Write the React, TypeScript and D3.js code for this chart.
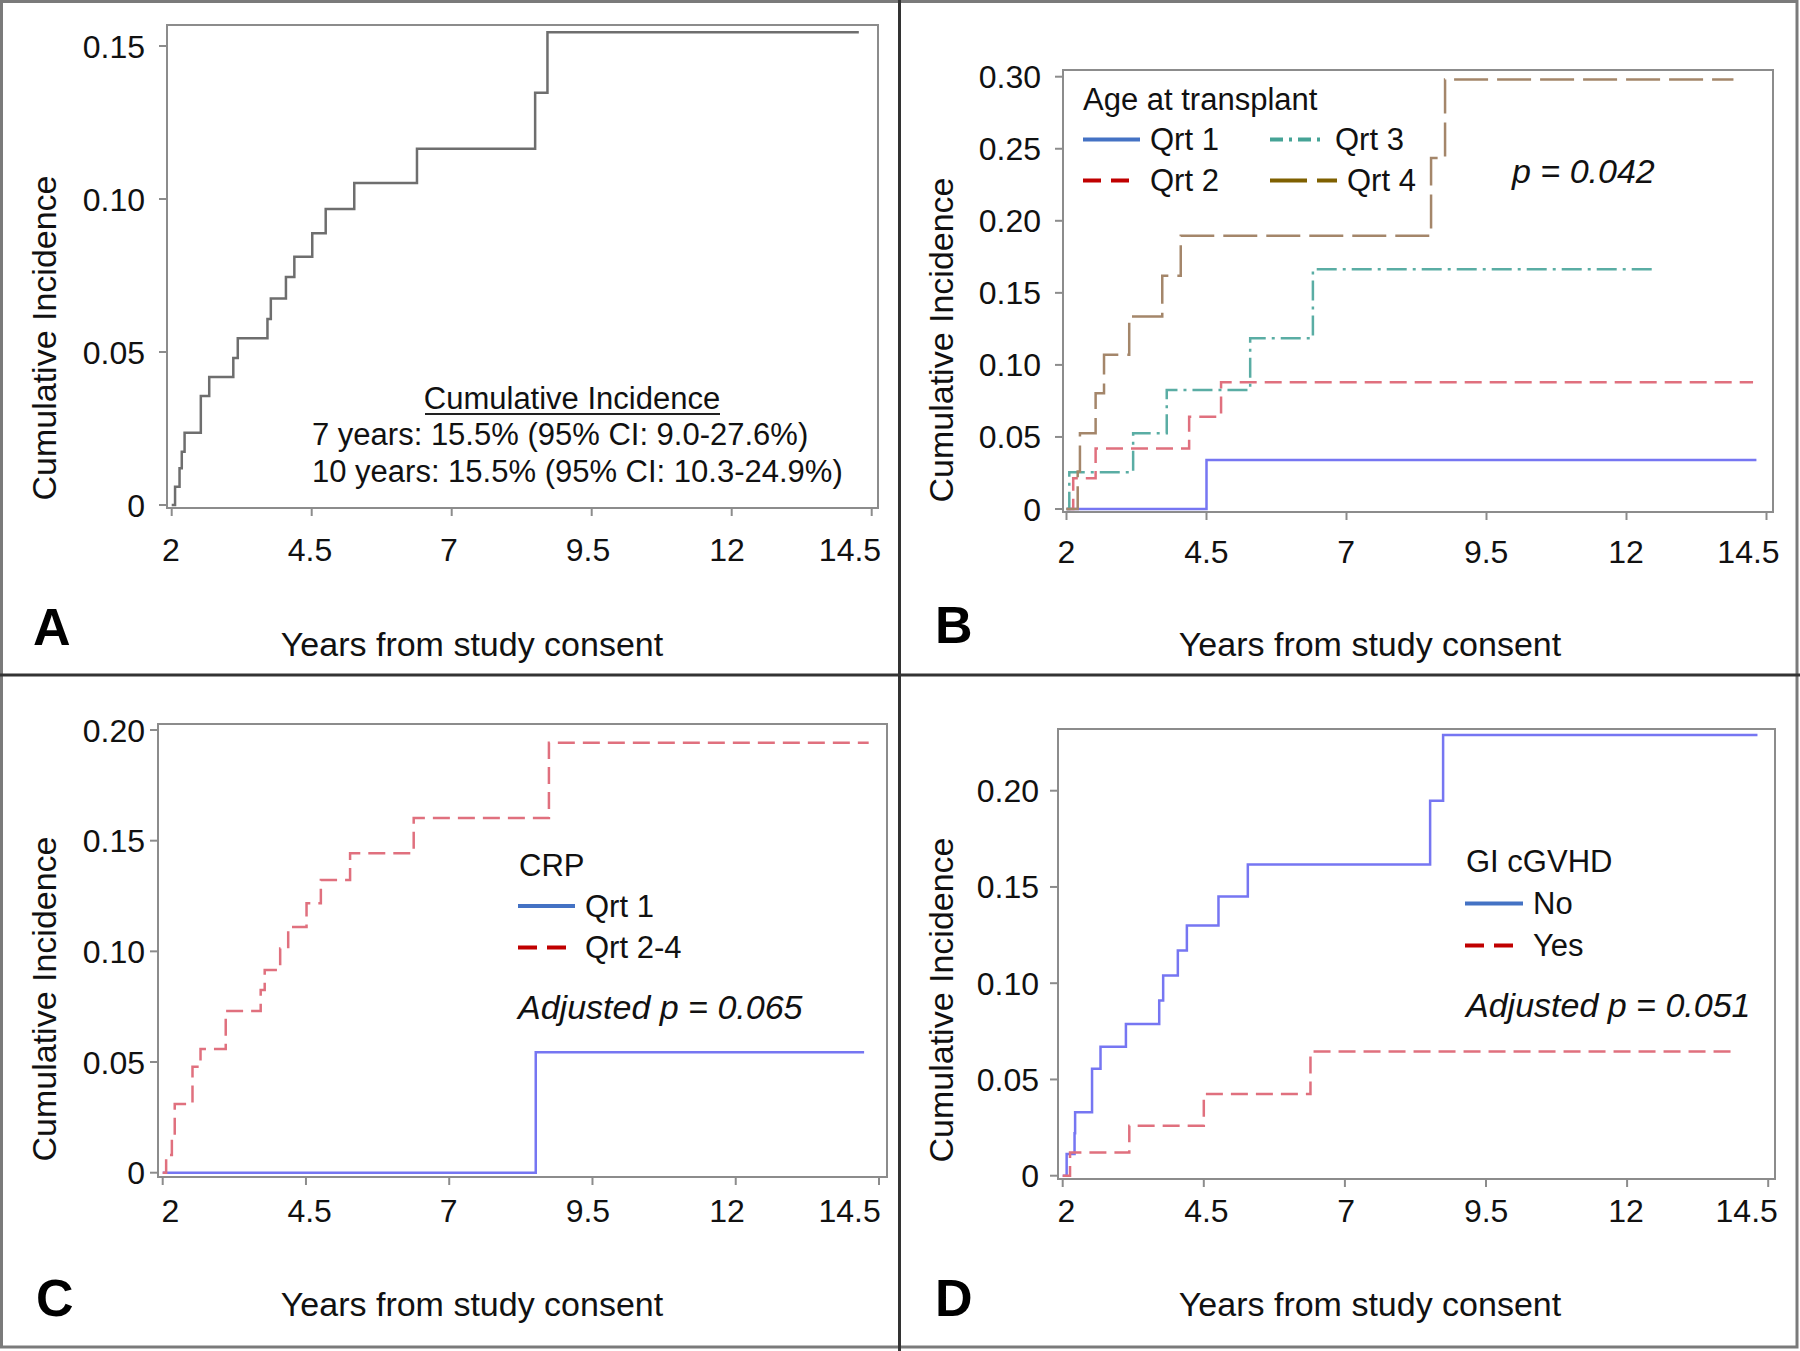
import React from 'react';
import * as d3 from 'd3';

// ---------- data ----------
const xTickValues = [2, 4.5, 7, 9.5, 12, 14.5];
const xTickLabels = ['2', '4.5', '7', '9.5', '12', '14.5'];

const yTicksA = [0, 0.05, 0.1, 0.15];
const yLabelsA = ['0', '0.05', '0.10', '0.15'];
const yTicksB = [0, 0.05, 0.1, 0.15, 0.2, 0.25, 0.3];
const yLabelsB = ['0', '0.05', '0.10', '0.15', '0.20', '0.25', '0.30'];
const yTicksC = [0, 0.05, 0.1, 0.15, 0.2];
const yLabelsC = ['0', '0.05', '0.10', '0.15', '0.20'];
const yTicksD = [0, 0.05, 0.1, 0.15, 0.2];
const yLabelsD = ['0', '0.05', '0.10', '0.15', '0.20'];

// Panel A: overall
const overallTimes = [2.0, 2.06, 2.14, 2.18, 2.23, 2.52, 2.67, 3.1, 3.18, 3.71, 3.77, 4.04, 4.19, 4.51, 4.75, 5.26, 6.38, 8.49, 8.71, 14.27];
const overallValues = [0, 0.006, 0.012, 0.0174, 0.0236, 0.0356, 0.0418, 0.048, 0.0545, 0.0608, 0.0675, 0.0745, 0.0811, 0.0888, 0.0967, 0.1052, 0.1164, 0.1347, 0.1545, 0.1545];

// Panel B: age at transplant quartiles
const ageQ1Times = [2.0, 4.5, 14.32];
const ageQ1Values = [0, 0.034, 0.034];
const ageQ2Times = [2.0, 2.12, 2.52, 4.19, 4.76, 14.26];
const ageQ2Values = [0, 0.0213, 0.042, 0.064, 0.088, 0.088];
const ageQ3Times = [2.0, 2.05, 3.19, 3.79, 5.28, 6.4, 12.48];
const ageQ3Values = [0, 0.0255, 0.0526, 0.0826, 0.1185, 0.1664, 0.1664];
const ageQ4Times = [2.0, 2.2, 2.24, 2.52, 2.67, 3.12, 3.71, 4.04, 8.51, 8.76, 13.91];
const ageQ4Values = [0, 0.026, 0.0526, 0.0803, 0.107, 0.1336, 0.1618, 0.1896, 0.2435, 0.298, 0.298];

// Panel C: CRP
const crpQ1Times = [2.0, 8.51, 14.24];
const crpQ1Values = [0, 0.0544, 0.0544];
const crpQ24Times = [2.0, 2.06, 2.16, 2.21, 2.52, 2.66, 3.1, 3.71, 3.78, 4.05, 4.19, 4.51, 4.76, 5.27, 6.38, 8.74, 14.32];
const crpQ24Values = [0, 0.008, 0.0163, 0.031, 0.0479, 0.0559, 0.073, 0.0825, 0.0916, 0.1013, 0.111, 0.1217, 0.1322, 0.1443, 0.1603, 0.1942, 0.1942];

// Panel D: GI cGVHD
const gvhdNoTimes = [2.0, 2.07, 2.21, 2.22, 2.52, 2.67, 3.12, 3.71, 3.78, 4.04, 4.2, 4.76, 5.28, 8.51, 8.74, 14.31];
const gvhdNoValues = [0, 0.0113, 0.022, 0.033, 0.0555, 0.067, 0.0788, 0.091, 0.104, 0.117, 0.13, 0.145, 0.1617, 0.1948, 0.2289, 0.2289];
const gvhdYesTimes = [2.0, 2.13, 3.18, 4.5, 6.39, 13.89];
const gvhdYesValues = [0, 0.0121, 0.026, 0.0425, 0.0645, 0.0645];

// ---------- styles ----------
const FONT = "'Liberation Sans', Arial, Helvetica, sans-serif";
const FRAME = '#8c8c8c';
const plotBlue = '#7676f2';
const plotRed = '#e0707e';
const plotTeal = '#5aada4';
const plotBrown = '#a4866a';
const legBlue = '#4472c4';
const legRed = '#c00000';
const legTeal = '#45a396';
const legBrown = '#7f6000';

type Series = { times: number[]; values: number[]; color: string; width: number; dash?: string };

type PanelCfg = {
  letter: string;
  frame: { l: number; r: number; t: number; b: number };
  x2: number; x145: number;
  lab2: number; lab12: number; labLast: number;
  y0: number; yTopPx: number; yTopVal: number;
  yTicks: number[]; yLabels: string[];
  yLabelRight: number;
  xLabelBase: number;
  yTitleX: number; yTitleY: number;
  xTitleX: number; xTitleBase: number;
  letterX: number; letterBase: number;
  series: Series[];
};

function Panel({ cfg, children }: { cfg: PanelCfg; children?: React.ReactNode }) {
  const xs = d3.scaleLinear().domain([2, 14.5]).range([cfg.x2, cfg.x145]);
  const xl = d3.scaleLinear().domain([2, 12]).range([cfg.lab2, cfg.lab12]);
  const ys = d3.scaleLinear().domain([0, cfg.yTopVal]).range([cfg.y0, cfg.yTopPx]);
  const line = d3
    .line<[number, number]>()
    .x((d) => xs(d[0]))
    .y((d) => ys(d[1]))
    .curve(d3.curveStepAfter);
  const f = cfg.frame;
  const last = xTickValues.length - 1;
  return (
    <g>
      <rect x={f.l} y={f.t} width={f.r - f.l} height={f.b - f.t} fill="none" stroke={FRAME} strokeWidth={2} />
      {cfg.yTicks.map((t, i) => (
        <g key={'y' + i}>
          <line x1={f.l - 8} x2={f.l} y1={ys(t)} y2={ys(t)} stroke={FRAME} strokeWidth={2} />
          <text x={cfg.yLabelRight} y={ys(t)} dy="0.36em" textAnchor="end" fontSize={32} fontFamily={FONT} fill="#111">
            {cfg.yLabels[i]}
          </text>
        </g>
      ))}
      {xTickValues.map((t, i) => (
        <g key={'x' + i}>
          <line x1={xs(t)} x2={xs(t)} y1={f.b} y2={f.b + 8} stroke={FRAME} strokeWidth={2} />
          <text
            x={i === last ? cfg.labLast : xl(t)}
            y={cfg.xLabelBase}
            textAnchor="middle"
            fontSize={32}
            fontFamily={FONT}
            fill="#111"
          >
            {xTickLabels[i]}
          </text>
        </g>
      ))}
      {cfg.series.map((s, i) => (
        <path
          key={'s' + i}
          d={line(s.times.map((t, k) => [t, s.values[k]] as [number, number])) || ''}
          fill="none"
          stroke={s.color}
          strokeWidth={s.width}
          strokeDasharray={s.dash}
        />
      ))}
      <text
        transform={`translate(${cfg.yTitleX},${cfg.yTitleY}) rotate(-90)`}
        textAnchor="middle"
        dy="0.36em"
        fontSize={34}
        fontFamily={FONT}
        fill="#111"
      >
        Cumulative Incidence
      </text>
      <text x={cfg.xTitleX} y={cfg.xTitleBase} textAnchor="middle" fontSize={34} fontFamily={FONT} fill="#111">
        Years from study consent
      </text>
      <text x={cfg.letterX} y={cfg.letterBase} fontSize={52} fontWeight="bold" fontFamily={FONT} fill="#000">
        {cfg.letter}
      </text>
      {children}
    </g>
  );
}

function LegendLine({ x1, x2, y, color, dash }: { x1: number; x2: number; y: number; color: string; dash?: string }) {
  return <line x1={x1} x2={x2} y1={y} y2={y} stroke={color} strokeWidth={4} strokeDasharray={dash} />;
}

export default function App() {
  const panelA: PanelCfg = {
    letter: 'A',
    frame: { l: 167, r: 878, t: 25, b: 508 },
    x2: 171.7, x145: 871.7,
    lab2: 171, lab12: 727, labLast: 850,
    y0: 505, yTopPx: 46, yTopVal: 0.15,
    yTicks: yTicksA, yLabels: yLabelsA, yLabelRight: 145,
    xLabelBase: 561,
    yTitleX: 44, yTitleY: 338,
    xTitleX: 472, xTitleBase: 656,
    letterX: 33, letterBase: 645,
    series: [{ times: overallTimes, values: overallValues, color: '#6e6e6e', width: 2.5 }],
  };
  const panelB: PanelCfg = {
    letter: 'B',
    frame: { l: 1063, r: 1773, t: 70, b: 512 },
    x2: 1066.5, x145: 1766.5,
    lab2: 1066.5, lab12: 1626, labLast: 1748.5,
    y0: 509, yTopPx: 76.7, yTopVal: 0.3,
    yTicks: yTicksB, yLabels: yLabelsB, yLabelRight: 1041,
    xLabelBase: 563,
    yTitleX: 941, yTitleY: 340,
    xTitleX: 1370, xTitleBase: 656,
    letterX: 935, letterBase: 643,
    series: [
      { times: ageQ1Times, values: ageQ1Values, color: plotBlue, width: 2.5 },
      { times: ageQ2Times, values: ageQ2Values, color: plotRed, width: 2.5, dash: '17 8' },
      { times: ageQ3Times, values: ageQ3Values, color: plotTeal, width: 2.5, dash: '20 6 3 6' },
      { times: ageQ4Times, values: ageQ4Values, color: plotBrown, width: 2.5, dash: '34 9' },
    ],
  };
  const panelC: PanelCfg = {
    letter: 'C',
    frame: { l: 158, r: 887, t: 724, b: 1177 },
    x2: 162.7, x145: 879,
    lab2: 170.5, lab12: 727, labLast: 849.6,
    y0: 1172.7, yTopPx: 730, yTopVal: 0.2,
    yTicks: yTicksC, yLabels: yLabelsC, yLabelRight: 145,
    xLabelBase: 1222,
    yTitleX: 44, yTitleY: 999,
    xTitleX: 472, xTitleBase: 1316,
    letterX: 36, letterBase: 1316,
    series: [
      { times: crpQ1Times, values: crpQ1Values, color: plotBlue, width: 2.5 },
      { times: crpQ24Times, values: crpQ24Values, color: plotRed, width: 2.5, dash: '17 8' },
    ],
  };
  const panelD: PanelCfg = {
    letter: 'D',
    frame: { l: 1058, r: 1775, t: 729, b: 1179 },
    x2: 1062.7, x145: 1768.2,
    lab2: 1066.5, lab12: 1626, labLast: 1746.7,
    y0: 1175.7, yTopPx: 790.7, yTopVal: 0.2,
    yTicks: yTicksD, yLabels: yLabelsD, yLabelRight: 1039,
    xLabelBase: 1222,
    yTitleX: 941, yTitleY: 1000,
    xTitleX: 1370, xTitleBase: 1316,
    letterX: 935, letterBase: 1316,
    series: [
      { times: gvhdNoTimes, values: gvhdNoValues, color: plotBlue, width: 2.5 },
      { times: gvhdYesTimes, values: gvhdYesValues, color: plotRed, width: 2.5, dash: '17 8' },
    ],
  };

  const txt = { fontFamily: FONT, fill: '#111' } as const;

  return (
    <svg
      width={1800}
      height={1351}
      viewBox="0 0 1800 1351"
      style={{ position: 'absolute', left: 0, top: 0, background: '#fff' }}
    >
      <rect x={0} y={0} width={1800} height={1351} fill="#fff" />

      <Panel cfg={panelA}>
        <text x={572} y={409} textAnchor="middle" fontSize={31} {...txt}>Cumulative Incidence</text>
        <line x1={425} x2={720} y1={414} y2={414} stroke="#222" strokeWidth={2} />
        <text x={312} y={445} fontSize={31} {...txt}>7 years: 15.5% (95% CI: 9.0-27.6%)</text>
        <text x={312} y={482} fontSize={31} {...txt}>10 years: 15.5% (95% CI: 10.3-24.9%)</text>
      </Panel>

      <Panel cfg={panelB}>
        <text x={1083} y={110} fontSize={31} {...txt}>Age at transplant</text>
        <LegendLine x1={1083} x2={1140} y={139.5} color={legBlue} />
        <text x={1150} y={150} fontSize={31} {...txt}>Qrt 1</text>
        <LegendLine x1={1270} x2={1324} y={139.5} color={legTeal} dash="13 6 3 6" />
        <text x={1335} y={150} fontSize={31} {...txt}>Qrt 3</text>
        <LegendLine x1={1083} x2={1130} y={180.5} color={legRed} dash="18 10" />
        <text x={1150} y={191} fontSize={31} {...txt}>Qrt 2</text>
        <LegendLine x1={1270} x2={1337} y={180.5} color={legBrown} dash="37 10" />
        <text x={1347} y={191} fontSize={31} {...txt}>Qrt 4</text>
        <text x={1512} y={183} fontSize={34} fontStyle="italic" {...txt}>p = 0.042</text>
      </Panel>

      <Panel cfg={panelC}>
        <text x={519} y={876} fontSize={31} {...txt}>CRP</text>
        <LegendLine x1={518} x2={575} y={906} color={legBlue} />
        <text x={585} y={917} fontSize={31} {...txt}>Qrt 1</text>
        <LegendLine x1={518} x2={566} y={947.5} color={legRed} dash="19 10" />
        <text x={585} y={958} fontSize={31} {...txt}>Qrt 2-4</text>
        <text x={518} y={1019} fontSize={34} fontStyle="italic" {...txt}>Adjusted p = 0.065</text>
      </Panel>

      <Panel cfg={panelD}>
        <text x={1466} y={872} fontSize={31} {...txt}>GI cGVHD</text>
        <LegendLine x1={1465} x2={1523} y={903.5} color={legBlue} />
        <text x={1533} y={914} fontSize={31} {...txt}>No</text>
        <LegendLine x1={1465} x2={1514} y={945.5} color={legRed} dash="19 10" />
        <text x={1533} y={956} fontSize={31} {...txt}>Yes</text>
        <text x={1466} y={1017} fontSize={34} fontStyle="italic" {...txt}>Adjusted p = 0.051</text>
      </Panel>

      {/* outer border and dividers */}
      <rect x={1.5} y={1.5} width={1795.5} height={1345.5} fill="none" stroke="#7a7a7a" strokeWidth={3} />
      <line x1={899.5} x2={899.5} y1={0} y2={1351} stroke="#333" strokeWidth={3} />
      <line x1={0} x2={1800} y1={675} y2={675} stroke="#333" strokeWidth={3} />
    </svg>
  );
}
